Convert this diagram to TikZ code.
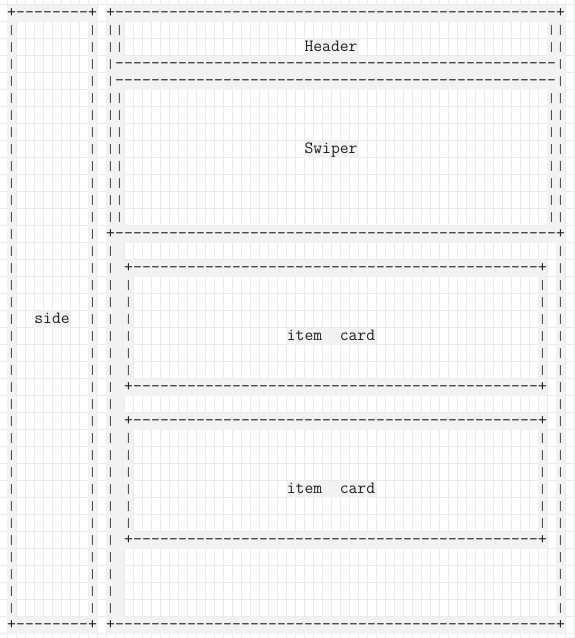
\documentclass[tikz,border=0pt]{standalone}
\definecolor{gridcol}{HTML}{EBEBEB}
\definecolor{cellcol}{HTML}{F2F2F2}
\definecolor{inkcol}{HTML}{222222}
\tikzset{
	gridline/.style={gridcol, line width=0.8pt},
	cell/.style={fill=cellcol},
	ch/.style={inner sep=0pt, anchor=base, yshift=-4.5pt, text=inkcol, font=\fontsize{17.14}{17}\selectfont\ttfamily},
	bar/.style={ch, font=\fontsize{13}{13}\selectfont\ttfamily}
}
\begin{document}
\begin{tikzpicture}[x=9pt, y=-17pt]
	\useasboundingbox (-1.2778,-0.7647) rectangle (62.5,36.7647);
	
	% background grid
	\foreach \k in {-1,...,62}
	\draw[gridline] (\k+0.5,-0.7647) -- (\k+0.5,36.7647);
	\foreach \k in {-1,...,36}
	\draw[gridline] (-1.2778,\k+0.5) -- (62.5,\k+0.5);
	
	% shaded cells
	\foreach \a/\b/\r/\s in {0/9/0/0, 0/9/36/36, 11/61/0/0, 11/61/36/36, 0/0/0/36, 9/9/0/36, 11/11/0/36, 61/61/0/36,
		12/12/0/35, 60/60/0/13, 11/61/3/4, 11/61/13/13,
		13/59/15/15, 13/59/22/22, 13/59/24/24, 13/59/31/31,
		13/13/15/22, 59/59/15/22, 13/13/24/31, 59/59/24/31,
		3/6/18/18, 33/38/2/2, 33/38/8/8, 31/40/19/19, 31/40/28/28}
	\fill[cell] (\a-0.5,\r-0.5) rectangle (\b+0.5,\s+0.5);
	
	% corners
	\foreach \c/\r in {0/0, 9/0, 11/0, 61/0, 0/36, 9/36, 11/36, 61/36, 11/13, 61/13,
		13/15, 59/15, 13/22, 59/22, 13/24, 59/24, 13/31, 59/31}
	\node[ch] at (\c,\r) {+};
	
	% dashes
	\foreach \r in {0,36} {
		\foreach \c in {1,...,8}
		\node[ch] at (\c,\r) {-};
	}
	\foreach \r in {0,3,4,13,36} {
		\foreach \c in {12,...,60}
		\node[ch] at (\c,\r) {-};
	}
	\foreach \r in {15,22,24,31} {
		\foreach \c in {14,...,58}
		\node[ch] at (\c,\r) {-};
	}
	
	% bars
	\foreach \r in {1,...,35} {
		\foreach \c in {0,9}
		\node[bar] at (\c,\r) {|};
	}
	\foreach \r in {1,...,12,14,15,...,35} {
		\foreach \c in {11,61}
		\node[bar] at (\c,\r) {|};
	}
	\foreach \r in {1,2,5,6,...,12} {
		\foreach \c in {12,60}
		\node[bar] at (\c,\r) {|};
	}
	\foreach \r in {16,...,21,25,26,...,30} {
		\foreach \c in {13,59}
		\node[bar] at (\c,\r) {|};
	}
	
	% labels
	\node[ch] (side) at (4.5,18) {side};
	\node[ch] (header) at (35.5,2) {Header};
	\node[ch] (swiper) at (35.5,8) {Swiper};
	\node[ch] (card1) at (35.5,19) {item\ \ card};
	\node[ch] (card2) at (35.5,28) {item\ \ card};
\end{tikzpicture}
\end{document}
